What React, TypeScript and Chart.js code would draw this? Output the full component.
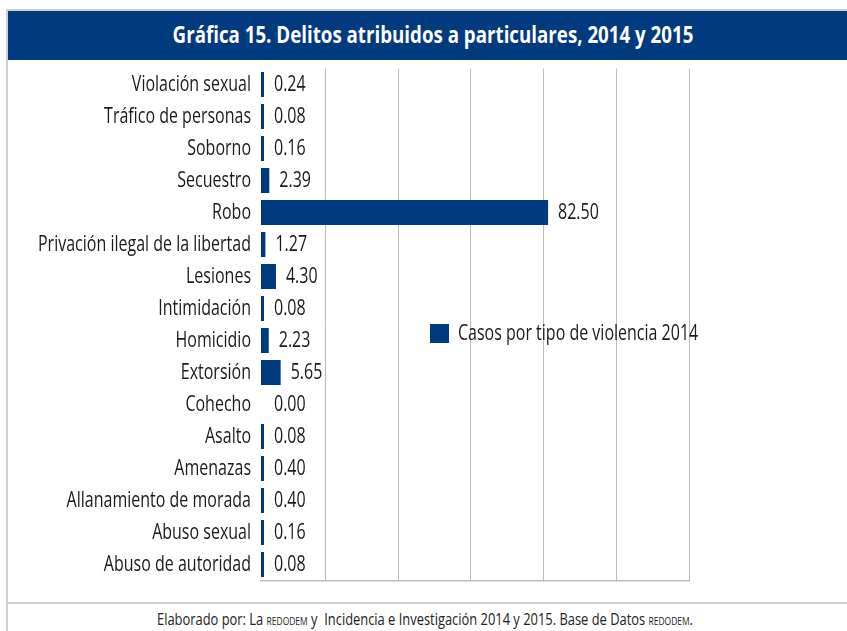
import React, { useEffect, useLayoutEffect, useRef } from "react";
import { Chart, registerables } from "chart.js";

Chart.register(...registerables);

const categories = [
  "Violación sexual",
  "Tráfico de personas",
  "Soborno",
  "Secuestro",
  "Robo",
  "Privación ilegal de la libertad",
  "Lesiones",
  "Intimidación",
  "Homicidio",
  "Extorsión",
  "Cohecho",
  "Asalto",
  "Amenazas",
  "Allanamiento de morada",
  "Abuso sexual",
  "Abuso de autoridad",
];
const values2014 = [0.24, 0.08, 0.16, 2.39, 82.5, 1.27, 4.3, 0.08, 2.23, 5.65, 0.0, 0.08, 0.4, 0.4, 0.16, 0.08];
const seriesLabel = "Casos por tipo de violencia 2014";
const gridValues = [18.4, 39.4, 60.3, 81.3, 102.3, 123];
const axisMax = 123;

const TITLE = "Gráfica 15. Delitos atribuidos a particulares, 2014 y 2015";
const BLUE = "#023A80";
const GRID = "#BDBDBD";
const FRAME = "#CFCFCF";
const FONT = '"Open Sans", "Noto Sans", sans-serif';
const TEXT_SIZE = 21;
// width of the longest category label in the reference, used to condense the font
const LONGEST_LABEL_WIDTH = 213;

function condensedScale(ctx: CanvasRenderingContext2D) {
  ctx.save();
  ctx.font = `${TEXT_SIZE}px ${FONT}`;
  let w = 0;
  categories.forEach((c) => {
    w = Math.max(w, ctx.measureText(c).width);
  });
  ctx.restore();
  return LONGEST_LABEL_WIDTH / w;
}

function drawText(ctx: CanvasRenderingContext2D, text: string, x: number, y: number, align: CanvasTextAlign, sx: number) {
  ctx.save();
  ctx.translate(x, y);
  ctx.scale(sx, 1);
  ctx.font = `${TEXT_SIZE}px ${FONT}`;
  ctx.fillStyle = "#1a1a1a";
  ctx.textAlign = align;
  ctx.textBaseline = "middle";
  ctx.fillText(text, 0, 0);
  ctx.restore();
}

const textLayer = {
  id: "textLayer",
  afterDraw(chart: any) {
    const { ctx, chartArea } = chart;
    const sx = condensedScale(ctx);
    const yScale = chart.scales.y;
    categories.forEach((c, i) => {
      drawText(ctx, c, chartArea.left - 10, yScale.getPixelForValue(i) + 1, "right", sx);
    });
    const meta = chart.getDatasetMeta(0);
    const data = chart.data.datasets[0].data as number[];
    meta.data.forEach((el: any, i: number) => {
      const xEnd = Math.max(el.x, el.base);
      drawText(ctx, data[i].toFixed(2), xEnd + 10, el.y + 1, "left", sx);
    });
    const ds = chart.data.datasets[0];
    const cy = (chartArea.top + chartArea.bottom) / 2 + 9;
    const x = chartArea.left + 169;
    ctx.save();
    ctx.fillStyle = BLUE;
    ctx.fillRect(x, cy - 9.5, 19, 19);
    ctx.restore();
    drawText(ctx, ds.label, x + 28, cy + 1, "left", sx);
  },
};

function BarChart() {
  const ref = useRef<HTMLCanvasElement | null>(null);
  useEffect(() => {
    if (!ref.current) return;
    const chart = new Chart(ref.current, {
      type: "bar",
      data: {
        labels: categories,
        datasets: [
          {
            label: seriesLabel,
            data: values2014,
            backgroundColor: (c: any) => (c.raw === 0 ? "rgba(0,0,0,0)" : BLUE),
            barPercentage: 0.78,
            categoryPercentage: 1,
            minBarLength: 3,
          },
        ],
      },
      options: {
        indexAxis: "y",
        responsive: false,
        animation: false,
        devicePixelRatio: 1,
        layout: { padding: { left: 0, right: 158, top: 8.5, bottom: 21.5 } },
        plugins: {
          legend: { display: false },
          tooltip: { enabled: false },
        },
        scales: {
          x: {
            min: 0,
            max: axisMax,
            afterBuildTicks: (axis: any) => {
              axis.ticks = gridValues.map((v) => ({ value: v }));
            },
            afterFit: (s: any) => {
              s.height = 0;
              s.paddingLeft = 0;
              s.paddingRight = 0;
            },
            ticks: { display: false },
            grid: { color: GRID, lineWidth: 1, drawTicks: false },
            border: { display: true, color: GRID, width: 1.5 },
          },
          y: {
            afterFit: (s: any) => {
              s.width = 253;
              s.paddingTop = 0;
              s.paddingBottom = 0;
            },
            ticks: { display: false },
            grid: { display: false, drawTicks: false },
            border: { display: false },
          },
        },
      },
      plugins: [textLayer],
    } as any);
    return () => chart.destroy();
  }, []);
  return <canvas ref={ref} width={839} height={542} style={{ display: "block", width: 839, height: 542 }} />;
}

function FittedLine({
  children,
  center,
  width,
  style,
}: {
  children: React.ReactNode;
  center: number;
  width: number;
  style: React.CSSProperties;
}) {
  const ref = useRef<HTMLSpanElement | null>(null);
  useLayoutEffect(() => {
    const el = ref.current;
    if (!el) return;
    const w = el.offsetWidth;
    if (w > 0) {
      el.style.transform = `translateX(-50%) scaleX(${width / w})`;
    }
  }, [width]);
  return (
    <span
      ref={ref}
      style={{
        position: "absolute",
        left: center,
        whiteSpace: "nowrap",
        transformOrigin: "50% 50%",
        display: "inline-block",
        ...style,
      }}
    >
      {children}
    </span>
  );
}

export default function App() {
  return (
    <div
      style={{
        position: "fixed",
        left: 0,
        top: 0,
        width: 847,
        height: 631,
        background: "#fff",
        overflow: "hidden",
      }}
    >
      <div style={{ position: "absolute", left: 6, top: 9, width: 841, height: 2, background: FRAME }} />
      <div style={{ position: "absolute", left: 6, top: 9, width: 2, height: 622, background: FRAME }} />
      <div style={{ position: "absolute", left: 8, top: 11, width: 839, height: 49, background: BLUE }} />
      <FittedLine
        center={432.5}
        width={521}
        style={{
          top: 11,
          height: 49,
          lineHeight: "47px",
          color: "#fff",
          fontFamily: FONT,
          fontWeight: 700,
          fontSize: 23,
        }}
      >
        {TITLE}
      </FittedLine>
      <div style={{ position: "absolute", left: 8, top: 60 }}>
        <BarChart />
      </div>
      <div style={{ position: "absolute", left: 8, top: 602, width: 839, height: 2, background: FRAME }} />
      <FittedLine
        center={425}
        width={536}
        style={{
          top: 607,
          height: 24,
          lineHeight: "24px",
          color: "#222",
          fontFamily: FONT,
          fontSize: 16,
        }}
      >
        Elaborado por: La <span style={{ fontSize: 10.5 }}>REDODEM</span> y&nbsp; Incidencia e Investigación 2014 y 2015. Base de
        Datos <span style={{ fontSize: 10.5 }}>REDODEM</span>.
      </FittedLine>
    </div>
  );
}
